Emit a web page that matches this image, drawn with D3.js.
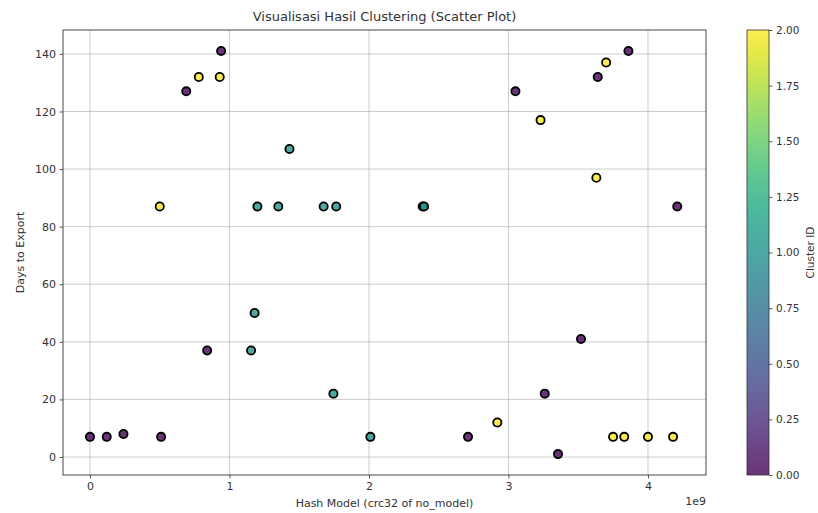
<!DOCTYPE html>
<html>
<head>
<meta charset="utf-8">
<script src="https://cdn.jsdelivr.net/npm/d3@7"></script>
<style>
  html, body { margin: 0; padding: 0; background: #fff; }
  svg { display: block; font-family: "DejaVu Sans", sans-serif; }
</style>
</head>
<body>
<svg id="chart" width="818" height="513"></svg>
<script>
// ---- Data (hash model in units of 1e9) ----
const hashModel = [0.00, 0.12, 0.24, 0.51, 0.50, 0.69, 0.78, 0.93, 0.94, 0.84,
                   1.155, 1.18, 1.20, 1.35, 1.43, 1.675, 1.765, 1.745, 2.01, 2.385,
                   2.395, 2.71, 2.92, 3.05, 3.23, 3.26, 3.355, 3.52, 3.64, 3.70,
                   3.86, 3.63, 4.21, 3.75, 3.83, 4.00, 4.18];
const daysToExport = [7, 7, 8, 7, 87, 127, 132, 132, 141, 37,
                      37, 50, 87, 87, 107, 87, 87, 22, 7, 87,
                      87, 7, 12, 127, 117, 22, 1, 41, 132, 137,
                      141, 97, 87, 7, 7, 7, 7];
const clusterId = [0, 0, 0, 0, 2, 0, 2, 2, 0, 0,
                   1, 1, 1, 1, 1, 1, 1, 1, 1, 1,
                   1, 0, 2, 0, 2, 0, 0, 0, 0, 2,
                   0, 2, 0, 2, 2, 2, 2];
const xTicks = [0, 1, 2, 3, 4];
const yTicks = [0, 20, 40, 60, 80, 100, 120, 140];
const cbTicks = [0, 0.25, 0.5, 0.75, 1.0, 1.25, 1.5, 1.75, 2.0];

const points = hashModel.map((h, i) => ({h, d: daysToExport[i], c: clusterId[i]}));

const svg = d3.select("#chart");
const L = 63, R = 706, T = 30, B = 475;
const x = d3.scaleLinear().domain([-0.1935, 4.416]).range([L, R]);
const y = d3.scaleLinear().domain([-6.25, 148.3]).range([B, T]);
const color = c => d3.interpolateViridis(c / 2);
const fs = 11;

// grid
const grid = svg.append("g");
grid.selectAll(".gx").data(xTicks).join("line")
  .attr("x1", d => x(d)).attr("x2", d => x(d)).attr("y1", T).attr("y2", B)
  .attr("stroke", "#a8a8a8").attr("stroke-opacity", 0.65).attr("stroke-width", 0.9);
grid.selectAll(".gy").data(yTicks).join("line")
  .attr("y1", d => y(d)).attr("y2", d => y(d)).attr("x1", L).attr("x2", R)
  .attr("stroke", "#a8a8a8").attr("stroke-opacity", 0.65).attr("stroke-width", 0.9);

// axes
const xAxis = d3.axisBottom(x).tickValues(xTicks).tickFormat(d3.format("d")).tickSize(3.5).tickPadding(3.5);
const yAxis = d3.axisLeft(y).tickValues(yTicks).tickFormat(d3.format("d")).tickSize(3.5).tickPadding(3.5);
const gx = svg.append("g").attr("transform", `translate(0,${B})`).call(xAxis);
const gy = svg.append("g").attr("transform", `translate(${L},0)`).call(yAxis);
[gx, gy].forEach(g => {
  g.select(".domain").remove();
  g.selectAll("text").attr("font-size", fs).attr("fill", "#333").attr("font-family", "DejaVu Sans");
  g.selectAll("line").attr("stroke", "#333").attr("stroke-width", 0.8);
});

// frame
svg.append("rect").attr("x", L).attr("y", T).attr("width", R - L).attr("height", B - T)
  .attr("fill", "none").attr("stroke", "#333").attr("stroke-width", 0.9);

// points
svg.append("g").selectAll("circle").data(points).join("circle")
  .attr("cx", d => x(d.h)).attr("cy", d => y(d.d)).attr("r", 4.1)
  .attr("fill", d => color(d.c)).attr("fill-opacity", 0.8)
  .attr("stroke", "#000").attr("stroke-width", 1.8);

// title & labels
svg.append("text").attr("x", (L + R) / 2).attr("y", 21).attr("text-anchor", "middle")
  .attr("font-size", 13).attr("fill", "#333").text("Visualisasi Hasil Clustering (Scatter Plot)");
svg.append("text").attr("x", (L + R) / 2).attr("y", 507).attr("text-anchor", "middle")
  .attr("font-size", fs).attr("fill", "#333").text("Hash Model (crc32 of no_model)");
svg.append("text").attr("transform", `translate(24,${(T + B) / 2}) rotate(-90)`).attr("text-anchor", "middle")
  .attr("font-size", fs).attr("fill", "#333").text("Days to Export");
svg.append("text").attr("x", R).attr("y", 505).attr("text-anchor", "end")
  .attr("font-size", fs).attr("fill", "#333").text("1e9");

// colorbar
const CL = 747, CR = 769;
const defs = svg.append("defs");
const grad = defs.append("linearGradient").attr("id", "vir").attr("x1", 0).attr("y1", 1).attr("x2", 0).attr("y2", 0);
d3.range(0, 1.0001, 0.05).forEach(t => {
  grad.append("stop").attr("offset", t).attr("stop-color", d3.interpolateViridis(t));
});
svg.append("rect").attr("x", CL).attr("y", T).attr("width", CR - CL).attr("height", B - T)
  .attr("fill", "url(#vir)").attr("fill-opacity", 0.8);
svg.append("rect").attr("x", CL).attr("y", T).attr("width", CR - CL).attr("height", B - T)
  .attr("fill", "none").attr("stroke", "#333").attr("stroke-width", 0.8);
const cy = d3.scaleLinear().domain([0, 2]).range([B, T]);
const gc = svg.append("g").attr("transform", `translate(${CR},0)`)
  .call(d3.axisRight(cy).tickValues(cbTicks).tickFormat(d3.format(".2f")).tickSize(3.5).tickPadding(3.5));
gc.select(".domain").remove();
gc.selectAll("text").attr("font-size", 10.5).attr("fill", "#333").attr("font-family", "DejaVu Sans");
gc.selectAll("line").attr("stroke", "#333").attr("stroke-width", 0.8);
svg.append("text").attr("transform", `translate(814,${(T + B) / 2}) rotate(-90)`).attr("text-anchor", "middle")
  .attr("font-size", 10.5).attr("fill", "#333").text("Cluster ID");
</script>
</body>
</html>
